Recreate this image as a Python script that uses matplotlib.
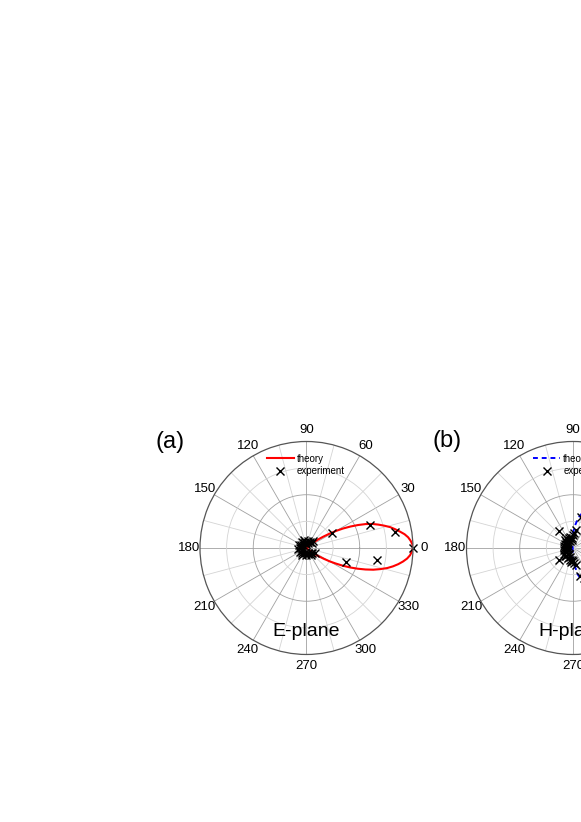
import numpy as np
import matplotlib
matplotlib.use('Agg')
import matplotlib.pyplot as plt

plt.rcParams['font.family'] = ['Liberation Sans', 'DejaVu Sans']

# E-plane theory (deg, normalised)
e_theory_deg = [-44, -42, -40, -38, -36, -34, -32, -30, -28, -26, -24, -22, -20, -18, -16, -14, -12, -10,
                -8, -6, -4, -2, 0, 2, 4, 6, 8, 10, 12, 14, 16, 18, 20, 22, 24, 26, 28, 30,
                32, 34, 36, 38, 40, 42, 44]
e_theory_r = [0.0, 0.01, 0.03, 0.06, 0.10, 0.14, 0.19, 0.25, 0.31, 0.38, 0.45, 0.52, 0.59, 0.66, 0.72, 0.78, 0.83, 0.875,
              0.915, 0.95, 0.975, 0.99, 1.0, 0.995, 0.98, 0.96, 0.93, 0.89, 0.85, 0.81, 0.76, 0.71, 0.66, 0.60, 0.53, 0.46, 0.39, 0.32,
              0.25, 0.19, 0.14, 0.09, 0.06, 0.03, 0.01]

# E-plane measurement, every 10 deg from 0 to 350
e_exp_deg = list(range(0, 360, 10))
e_exp_r = [1.00, 0.84, 0.635, 0.28, 0.07, 0.09, 0.06, 0.05, 0.07, 0.04,
           0.06, 0.08, 0.05, 0.07, 0.04, 0.06, 0.07, 0.05, 0.06, 0.08,
           0.04, 0.07, 0.05, 0.06, 0.08, 0.05, 0.04, 0.07, 0.06, 0.05,
           0.08, 0.06, 0.07, 0.09, 0.39, 0.67]

# H-plane theory
h_theory_deg = [-120, -110, -105, -100, -95, -90, -85, -80, -75, -70, -60, -50, -40, -30, -20, -10, 0,
                10, 20, 30, 40, 50, 60, 70, 75, 80, 85, 90, 95, 100, 105, 110, 120]
h_theory_r = [0.0, 0.0, 0.01, 0.02, 0.05, 0.09, 0.16, 0.25, 0.31, 0.37, 0.50, 0.63, 0.75, 0.86, 0.94, 0.985, 1.0,
              0.985, 0.94, 0.87, 0.77, 0.65, 0.52, 0.40, 0.34, 0.29, 0.21, 0.14, 0.10, 0.07, 0.04, 0.02, 0.0]

# H-plane measurement, every 5 deg
h_exp_deg = list(range(0, 360, 5))
h_exp_r = [1.00, 0.99, 0.97, 0.95, 0.92, 0.89, 0.85, 0.79, 0.73, 0.68, 0.62, 0.55,
           0.48, 0.40, 0.33, 0.30, 0.17, 0.14, 0.12, 0.09, 0.08, 0.11, 0.10, 0.07,
           0.09, 0.12, 0.21, 0.11, 0.09, 0.07, 0.06, 0.08, 0.05, 0.09, 0.07, 0.05,
           0.08, 0.06, 0.06, 0.09, 0.05, 0.07, 0.08, 0.10, 0.17, 0.11, 0.10, 0.07,
           0.07, 0.10, 0.09, 0.12, 0.13, 0.11, 0.12, 0.14, 0.16, 0.27, 0.30, 0.38,
           0.47, 0.54, 0.61, 0.68, 0.74, 0.80, 0.85, 0.89, 0.93, 0.96, 0.98, 0.99]

angle_labels = [str(a) for a in range(0, 360, 30)]

fig = plt.figure(figsize=(5.81, 8.22), dpi=100)


def setup_polar(ax):
    ax.set_ylim(0, 1)
    ax.set_xticks(np.deg2rad(np.arange(0, 360, 30)))
    ax.set_xticklabels(angle_labels, fontsize=9.5)
    ax.set_xticks(np.deg2rad(np.arange(15, 360, 30)), minor=True)
    ax.set_yticks([0.5])
    ax.set_yticks([0.25, 0.75], minor=True)
    ax.set_yticklabels([])
    ax.grid(True, which='major', color='#a0a0a0', lw=0.6)
    ax.grid(True, which='minor', color='#d4d4d4', lw=0.6)
    ax.tick_params(which='both', length=0, pad=1)
    ax.spines['polar'].set_color('#555555')
    ax.spines['polar'].set_linewidth(0.9)


# (a) E-plane
ax1 = fig.add_axes([0.3442, 0.2038, 0.3666, 0.2591], projection='polar')
setup_polar(ax1)
ax1.plot(np.deg2rad(e_theory_deg), e_theory_r, color='red', lw=1.5, label='theory')
ax1.plot(np.deg2rad(e_exp_deg), e_exp_r, 'x', color='black', ms=5.5, mew=1.0,
         label='experiment', clip_on=False)
ax1.legend(loc='upper left', bbox_to_anchor=(0.29, 0.965), fontsize=7, frameon=False,
           handlelength=2.8, handletextpad=0.3, labelspacing=0.25, borderpad=0)
ax1.text(0.5, 0.106, 'E-plane', transform=ax1.transAxes, ha='center', va='center', fontsize=14)

# (b) H-plane
ax2 = fig.add_axes([0.8029, 0.2038, 0.3666, 0.2591], projection='polar')
setup_polar(ax2)
ax2.plot(np.deg2rad(h_theory_deg), h_theory_r, color='blue', lw=1.4, ls=(0, (2.5, 2)), label='theory')
ax2.plot(np.deg2rad(h_exp_deg), h_exp_r, 'x', color='black', ms=5.5, mew=1.0,
         label='experiment', clip_on=False)
ax2.legend(loc='upper left', bbox_to_anchor=(0.29, 0.965), fontsize=7, frameon=False,
           handlelength=2.8, handletextpad=0.3, labelspacing=0.25, borderpad=0)
ax2.text(0.5, 0.106, 'H-plane', transform=ax2.transAxes, ha='center', va='center', fontsize=14)

fig.text(170 / 581, 1 - 442 / 822, '(a)', ha='center', va='center', fontsize=17)
fig.text(447 / 581, 1 - 441 / 822, '(b)', ha='center', va='center', fontsize=17)

fig.savefig('out.png', dpi=100)
